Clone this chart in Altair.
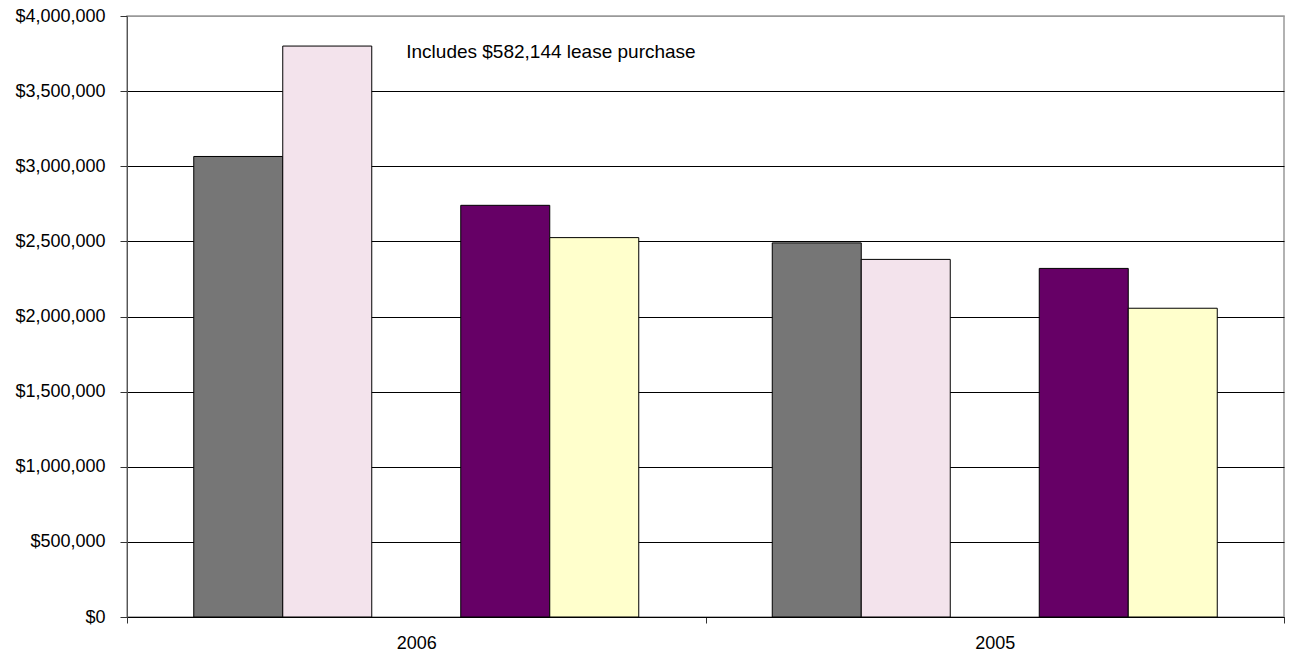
import altair as alt
import pandas as pd

years = ["2006", "2005"]
series = ["S1", "S2", "S3", "S4", "S5"]
s1 = [3065000, 2490000]
s2 = [3800000, 2380000]
s3 = [None, None]
s4 = [2740000, 2320000]
s5 = [2525000, 2055000]
colors = ["#767676", "#f3e3ec", "#ffffff", "#660066", "#ffffcc"]
note = "Includes $582,144 lease purchase"
y_ticks = [0, 500000, 1000000, 1500000, 2000000, 2500000, 3000000, 3500000, 4000000]

rows = []
for i, y in enumerate(years):
    for s, vals in zip(series, [s1, s2, s3, s4, s5]):
        rows.append({"year": y, "series": s, "value": vals[i]})
df = pd.DataFrame(rows)

FONT = "Liberation Sans"

x_enc = alt.X("year:N", sort=years,
              scale=alt.Scale(paddingInner=0, paddingOuter=0),
              axis=alt.Axis(title=None, labelAngle=0, tickBand="extent",
                            domainColor="black", tickColor="#333", tickSize=6,
                            labelFontSize=18, labelFont=FONT, labelColor="black",
                            labelPadding=11, grid=False))
xo_enc = alt.XOffset("series:N", sort=series,
                     scale=alt.Scale(domain=series, paddingInner=0, paddingOuter=0.75))

bars = alt.Chart(df).mark_bar(stroke="black", strokeWidth=1).encode(
    x=x_enc,
    xOffset=xo_enc,
    y=alt.Y("value:Q",
            scale=alt.Scale(domain=[0, 4000000], nice=False),
            axis=alt.Axis(title=None, values=y_ticks, format="$,.0f",
                          labelFontSize=18, labelFont=FONT, labelColor="black",
                          tickSize=7, tickColor="#333", domainColor="#555",
                          labelPadding=15,
                          grid=True,
                          gridColor={"condition": {"test": "datum.value === 4000000", "value": "#999999"},
                                     "value": "black"})),
    color=alt.Color("series:N", sort=series,
                    scale=alt.Scale(domain=series, range=colors), legend=None),
)

note_df = pd.DataFrame({"year": [years[0]], "series": [series[1]], "value": [s2[0]], "text": [note]})
text = alt.Chart(note_df).mark_text(align="left", baseline="middle", dx=79, dy=6,
                                    fontSize=19, font=FONT, color="black").encode(
    x=alt.X("year:N", sort=years),
    xOffset=alt.XOffset("series:N", sort=series),
    y=alt.Y("value:Q"),
    text="text:N",
)

chart = alt.layer(bars, text).properties(
    width=1157, height=601,
    autosize=alt.AutoSizeParams(type="none"),
    padding={"left": 127, "top": 16, "right": 10, "bottom": 39},
).configure_view(stroke="#999999", strokeWidth=1.5)

chart.save("out.html", embed_options={"renderer": "svg", "actions": False})
